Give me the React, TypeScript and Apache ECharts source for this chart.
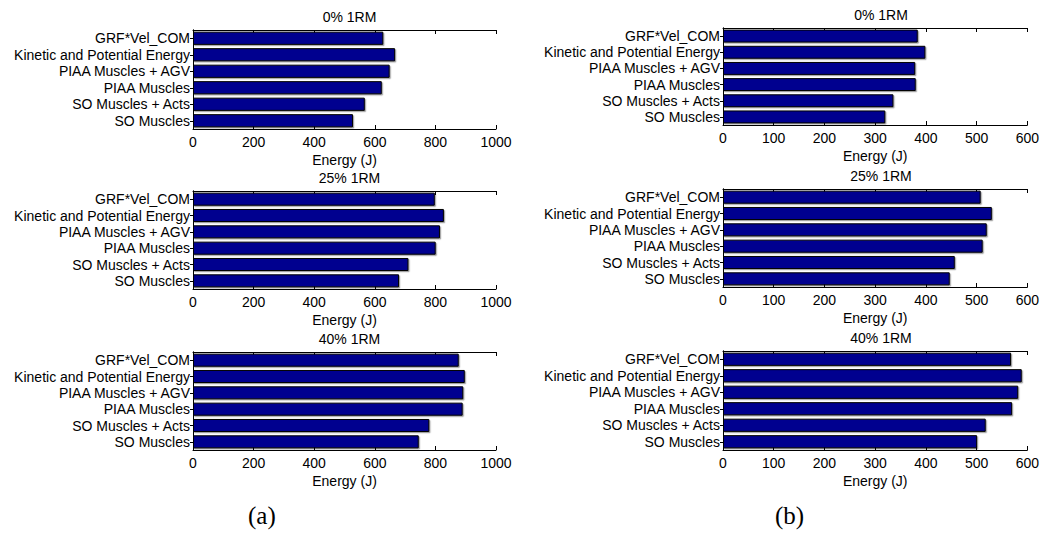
import React, { useEffect, useRef } from "react";
import * as echarts from "echarts";

const categories = [
  "SO Muscles",
  "SO Muscles + Acts",
  "PIAA Muscles",
  "PIAA Muscles + AGV",
  "Kinetic and Potential Energy",
  "GRF*Vel_COM",
];

const panelTitles = ["0% 1RM", "25% 1RM", "40% 1RM"];

// (a) column, order matches categories (bottom to top)
const a0 = [528, 567, 623, 649, 667, 628];
const a25 = [680, 711, 801, 815, 828, 798];
const a40 = [745, 780, 890, 892, 897, 877];
// (b) column
const b0 = [320, 336, 380, 379, 399, 384];
const b25 = [447, 457, 512, 520, 530, 508];
const b40 = [501, 518, 570, 582, 589, 568];

const aMax = 1000;
const aInterval = 200;
const bMax = 600;
const bInterval = 100;

const FONT = "'Liberation Sans', Arial, Helvetica, sans-serif";

export default function App() {
  const ref = useRef<HTMLDivElement>(null);

  useEffect(() => {
    document.body.style.margin = "0";
    if (!ref.current) return;
    const chart = echarts.init(ref.current, undefined, { renderer: "svg" });

    const panels = [
      { data: a0, max: aMax, interval: aInterval, left: 193, top: 30, width: 303, height: 99, title: panelTitles[0] },
      { data: a25, max: aMax, interval: aInterval, left: 193, top: 191, width: 303, height: 98, title: panelTitles[1] },
      { data: a40, max: aMax, interval: aInterval, left: 193, top: 352, width: 303, height: 98, title: panelTitles[2] },
      { data: b0, max: bMax, interval: bInterval, left: 723, top: 28, width: 306, height: 97, title: panelTitles[0] },
      { data: b25, max: bMax, interval: bInterval, left: 723, top: 189, width: 306, height: 98, title: panelTitles[1] },
      { data: b40, max: bMax, interval: bInterval, left: 723, top: 351, width: 306, height: 99, title: panelTitles[2] },
    ];

    const grid: any[] = [];
    const xAxis: any[] = [];
    const yAxis: any[] = [];
    const series: any[] = [];
    const title: any[] = [];
    const lineStyle = { color: "#000", width: 1 };

    panels.forEach((p, i) => {
      grid.push({ left: p.left, top: p.top, width: p.width, height: p.height, containLabel: false });
      title.push({
        text: p.title,
        left: p.left + p.width / 2,
        top: p.top - 25,
        textAlign: "center",
        textStyle: { fontFamily: FONT, fontSize: 14, fontWeight: "normal", color: "#000" },
      });
      xAxis.push({
        type: "value",
        gridIndex: i,
        min: 0,
        max: p.max,
        interval: p.interval,
        position: "bottom",
        axisLine: { show: true, lineStyle },
        axisTick: { show: true, inside: true, length: 4, lineStyle },
        splitLine: { show: false },
        axisLabel: {
          fontFamily: FONT,
          fontSize: 14,
          color: "#000",
          margin: 6,
          formatter: (v: number) => String(v),
        },
        name: "Energy (J)",
        nameLocation: "middle",
        nameGap: 24,
        nameTextStyle: { fontFamily: FONT, fontSize: 14, color: "#000", verticalAlign: "top" },
      });
      xAxis.push({
        type: "value",
        gridIndex: i,
        min: 0,
        max: p.max,
        interval: p.interval,
        position: "top",
        axisLine: { show: true, lineStyle },
        axisTick: { show: true, inside: true, length: 4, lineStyle },
        splitLine: { show: false },
        axisLabel: { show: false },
      });
      yAxis.push({
        type: "category",
        gridIndex: i,
        data: categories,
        position: "left",
        axisLine: { show: true, lineStyle },
        axisTick: { show: false },
        axisLabel: { fontFamily: FONT, fontSize: 14, color: "#000", margin: 3, interval: 0 },
      });
      yAxis.push({
        type: "category",
        gridIndex: i,
        data: categories,
        position: "right",
        axisLine: { show: true, lineStyle },
        axisTick: { show: true, inside: true, length: 3, alignWithLabel: true, interval: 0, lineStyle },
        axisLabel: { show: false, interval: 0 },
      });
      series.push({
        type: "bar",
        xAxisIndex: i * 2,
        yAxisIndex: i * 2,
        data: p.data,
        barCategoryGap: "20%",
        itemStyle: {
          color: "#00008f",
          borderColor: "#000",
          borderWidth: 1,
          shadowColor: "rgba(0,0,0,0.35)",
          shadowOffsetX: 1.2,
          shadowOffsetY: 1.2,
          shadowBlur: 0,
        },
      });
    });

    chart.setOption({
      animation: false,
      backgroundColor: "#fff",
      title,
      grid,
      xAxis,
      yAxis,
      series,
      graphic: [
        {
          type: "text",
          left: 248,
          top: 503,
          style: { text: "(a)", font: "25px 'Liberation Serif', 'DejaVu Serif', serif", fill: "#000" },
        },
        {
          type: "text",
          left: 775,
          top: 503,
          style: { text: "(b)", font: "25px 'Liberation Serif', 'DejaVu Serif', serif", fill: "#000" },
        },
      ],
    });

    return () => chart.dispose();
  }, []);

  return <div ref={ref} style={{ width: 1042, height: 533 }} />;
}
